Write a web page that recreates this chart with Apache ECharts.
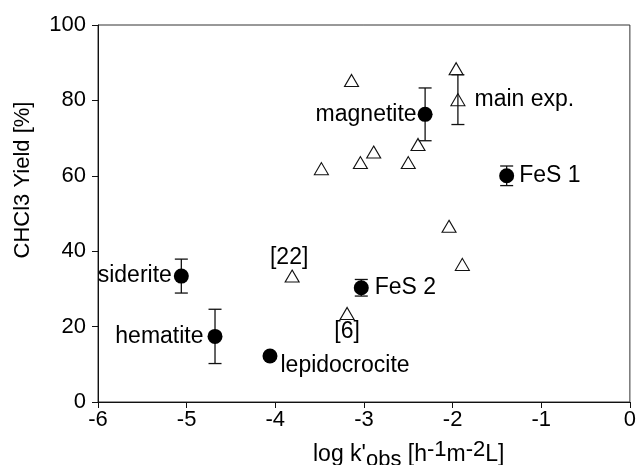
<!DOCTYPE html>
<html>
<head>
<meta charset="utf-8">
<script src="https://cdn.jsdelivr.net/npm/echarts@6/dist/echarts.min.js"></script>
<style>
  html, body { margin: 0; padding: 0; background: #fff; }
  #chart { width: 639px; height: 465px; }
</style>
</head>
<body>
<div id="chart"></div>
<script>
// Axis ranges and ticks
const xTicks = [-6, -5, -4, -3, -2, -1, 0];
const yTicks = [0, 20, 40, 60, 80, 100];

// Iron minerals (filled circles): log k'obs, CHCl3 yield, error
const mineralNames = ['siderite', 'hematite', 'lepidocrocite', 'FeS 2', 'magnetite', 'FeS 1'];
const mineralLogK  = [-5.06, -4.68, -4.06, -3.03, -2.31, -1.39];
const mineralYield = [33.4, 17.4, 12.2, 30.3, 76.3, 60.0];
const mineralErr   = [4.5, 7.2, null, 2.2, 7.0, 2.6];

// Main experiment (open triangle with error bar)
const mainName  = 'main exp.';
const mainLogK  = -1.94;
const mainYield = 80.2;
const mainErr   = 6.6;

// Literature values (open triangles)
const litNames = ['', '', '', '', '', '', '', '', '', '[6]', '[22]'];
const litLogK  = [-3.14, -1.96, -2.39, -2.89, -3.04, -2.50, -3.48, -2.04, -1.89, -3.19, -3.81];
const litYield = [85.3, 88.4, 68.3, 66.3, 63.5, 63.5, 61.9, 46.6, 36.5, 23.5, 33.4];

const FONT = '"Liberation Sans", Arial, sans-serif';
const INK = '#000';

// Label placement for each annotated point
const labelStyle = {
  'siderite':      { position: 'left',   distance: 2 },
  'hematite':      { position: 'left',   distance: 4 },
  'lepidocrocite': { position: 'right',  distance: 3, offset: [0, 10] },
  'FeS 2':         { position: 'right',  distance: 6 },
  'magnetite':     { position: 'left',   distance: 1 },
  'FeS 1':         { position: 'right',  distance: 5 },
  'main exp.':     { position: 'right',  distance: 9 },
  '[6]':           { position: 'bottom', distance: 0 },
  '[22]':          { position: 'top',    distance: 0, offset: [-3, 0] }
};

function withLabel(name, value) {
  const item = { name: name, value: value };
  if (name && labelStyle[name]) {
    item.label = Object.assign({
      show: true,
      formatter: name,
      color: INK,
      fontFamily: FONT,
      fontSize: 23
    }, labelStyle[name]);
  }
  return item;
}

const mineralData = mineralNames.map((n, i) => withLabel(n, [mineralLogK[i], mineralYield[i]]));
const litData = litNames.map((n, i) => withLabel(n, [litLogK[i], litYield[i]]));
const mainData = [withLabel(mainName, [mainLogK, mainYield])];

const errData = [];
mineralNames.forEach((n, i) => {
  if (mineralErr[i] != null) errData.push([mineralLogK[i], mineralYield[i], mineralErr[i]]);
});
errData.push([mainLogK, mainYield, mainErr]);

function renderErrorBar(params, api) {
  const x = api.value(0), y = api.value(1), e = api.value(2);
  const top = api.coord([x, y + e]);
  const bot = api.coord([x, y - e]);
  const hw = 6.5;
  const style = { stroke: '#111', lineWidth: 1.3 };
  return {
    type: 'group',
    children: [
      { type: 'line', shape: { x1: top[0], y1: top[1], x2: bot[0], y2: bot[1] }, style: style },
      { type: 'line', shape: { x1: top[0] - hw, y1: top[1], x2: top[0] + hw, y2: top[1] }, style: style },
      { type: 'line', shape: { x1: bot[0] - hw, y1: bot[1], x2: bot[0] + hw, y2: bot[1] }, style: style }
    ]
  };
}

const axisLine = { show: true, onZero: false, lineStyle: { color: '#111', width: 1 } };

const option = {
  animation: false,
  backgroundColor: '#fff',
  grid: {
    left: 98, right: 1, top: 25, bottom: 63, containLabel: false,
    show: true, borderColor: '#333', borderWidth: 1, backgroundColor: 'transparent'
  },
  xAxis: {
    type: 'value', min: xTicks[0], max: xTicks[xTicks.length - 1], interval: 1,
    position: 'bottom',
    axisLine: axisLine,
    axisTick: { show: true, inside: false, length: 6, lineStyle: { color: '#111' } },
    axisLabel: { color: INK, fontFamily: FONT, fontSize: 22, margin: 7 },
    splitLine: { show: false }
  },
  yAxis: {
    type: 'value', min: yTicks[0], max: yTicks[yTicks.length - 1], interval: 20,
    position: 'left',
    axisLine: axisLine,
    axisTick: { show: true, inside: false, length: 6, lineStyle: { color: '#111' } },
    axisLabel: { color: INK, fontFamily: FONT, fontSize: 22, margin: 12 },
    splitLine: { show: false }
  },
  graphic: [
    {
      type: 'text', x: 23, y: 180, rotation: Math.PI / 2,
      style: {
        text: 'CHCl3 Yield [%]', fill: INK, font: '22px ' + FONT,
        align: 'center', verticalAlign: 'middle'
      }
    },
    {
      type: 'text', left: 313, top: 439,
      style: {
        text: "log k'{sub|obs} [h{sup|-1}m{sup|-2}L]",
        fill: INK, font: '23px ' + FONT,
        rich: {
          sub: { fontSize: 22, fontFamily: FONT, padding: [10, 0, 0, 0], fill: INK },
          sup: { fontSize: 22, fontFamily: FONT, padding: [0, 0, 10, 0], fill: INK }
        }
      }
    }
  ],
  series: [
    {
      type: 'scatter', name: 'literature', data: litData,
      symbol: 'triangle', symbolSize: [14, 12],
      itemStyle: { color: '#fff', borderColor: '#111', borderWidth: 1.1, opacity: 1 },
      z: 2
    },
    {
      type: 'scatter', name: 'main', data: mainData,
      symbol: 'triangle', symbolSize: [14, 12],
      itemStyle: { color: '#fff', borderColor: '#111', borderWidth: 1.1, opacity: 1 },
      z: 2
    },
    {
      type: 'custom', name: 'error', data: errData,
      renderItem: renderErrorBar, z: 3, silent: true
    },
    {
      type: 'scatter', name: 'minerals', data: mineralData,
      symbol: 'circle', symbolSize: 15,
      itemStyle: { color: '#000', opacity: 1 },
      z: 4
    }
  ]
};

const chart = echarts.init(document.getElementById('chart'), null, { renderer: 'canvas' });
chart.setOption(option);
</script>
</body>
</html>
